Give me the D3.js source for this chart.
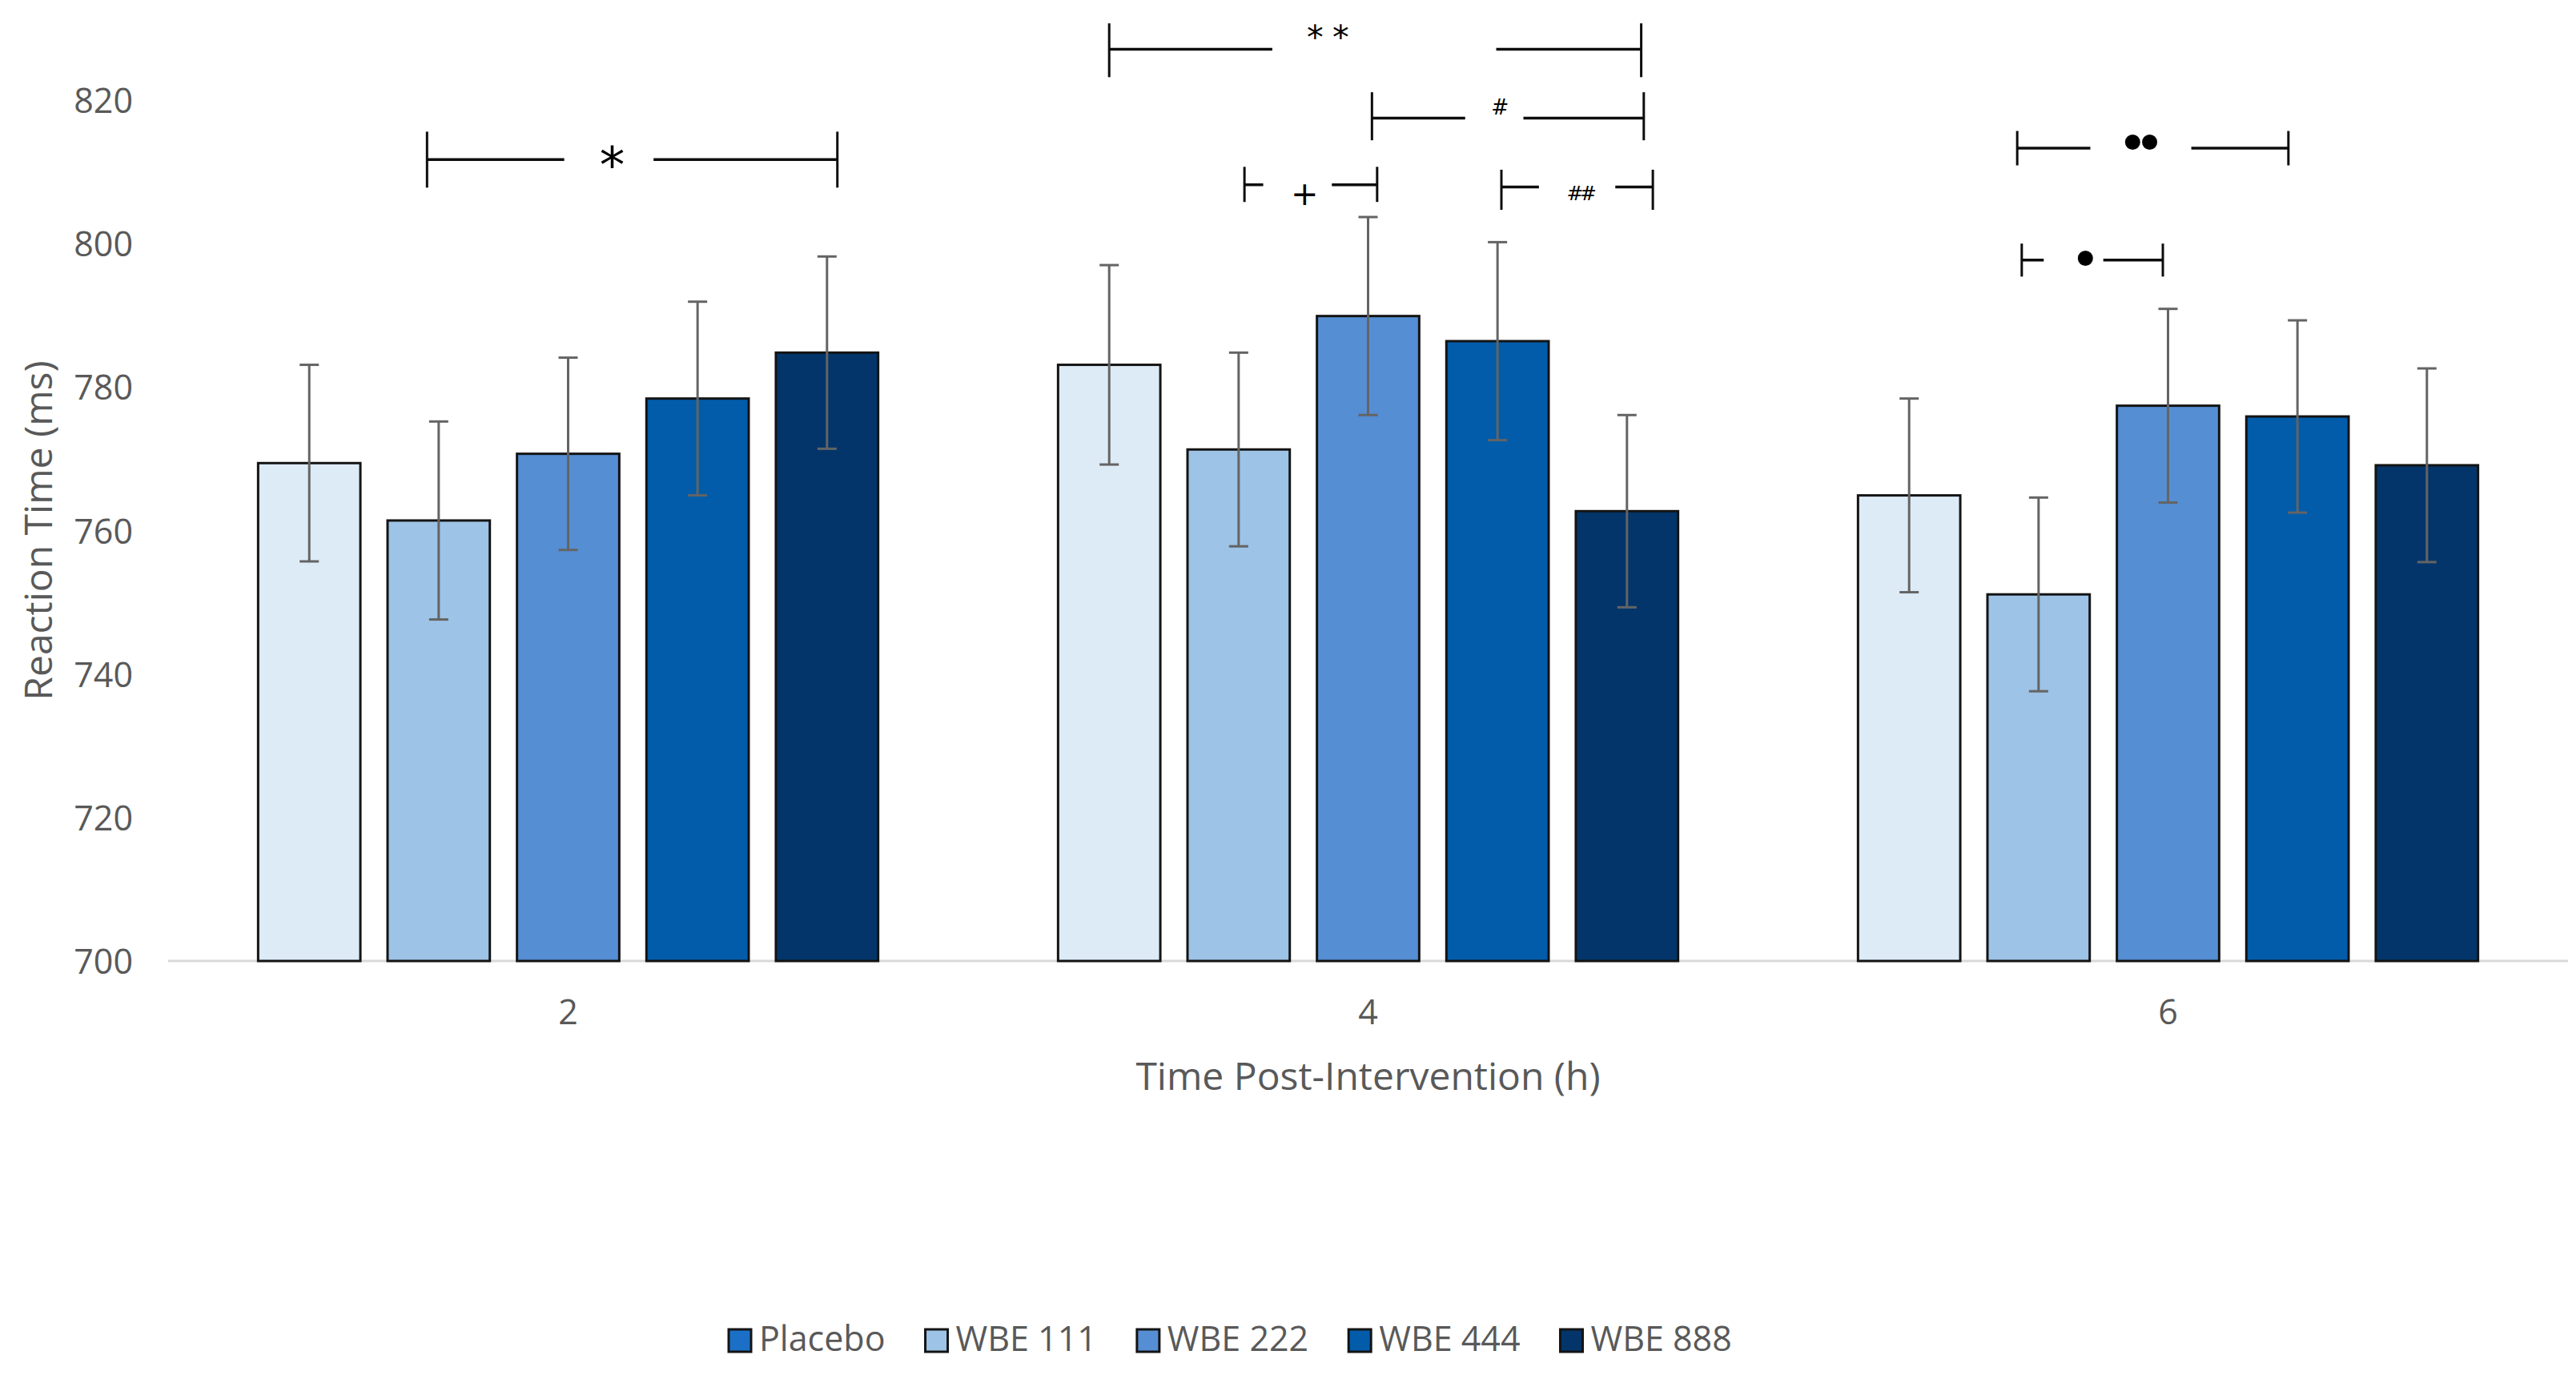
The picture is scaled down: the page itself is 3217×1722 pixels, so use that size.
<!DOCTYPE html>
<html>
<head>
<meta charset="utf-8">
<script src="https://cdn.jsdelivr.net/npm/d3@7/dist/d3.min.js"></script>
<style>
  html, body { margin: 0; padding: 0; background: #ffffff; }
  svg { display: block; }
</style>
</head>
<body>
<svg id="chart" width="3217" height="1722"></svg>
<script>
// ---------------- DATA ----------------
const categories = ["2", "4", "6"];
const seriesNames = ["Placebo", "WBE 111", "WBE 222", "WBE 444", "WBE 888"];

const placebo = [769.4, 783.1, 764.9];
const wbe111  = [761.4, 771.3, 751.1];
const wbe222  = [770.7, 789.9, 777.4];
const wbe444  = [778.4, 786.4, 775.9];
const wbe888  = [784.8, 762.7, 769.1];

const errPlacebo = [13.7, 13.9, 13.5];
const errWbe111  = [13.8, 13.5, 13.5];
const errWbe222  = [13.4, 13.8, 13.5];
const errWbe444  = [13.5, 13.8, 13.4];
const errWbe888  = [13.4, 13.4, 13.5];

const yTicks = [700, 720, 740, 760, 780, 800, 820];
const xTitle = "Time Post-Intervention (h)";
const yTitle = "Reaction Time (ms)";

// significance brackets: category, from/to bar slot, y (ms), tick extents (ms), label gap (slots), label centre
const brackets = [
  { cat: "2", from: 0.91,  to: 4.08, y: 811.7, up: 3.9, down: 3.9, gap: [1.97, 2.66], lx: 2.34, ly: 812.2, label: "*"  },
  { cat: "4", from: 0.00,  to: 4.11, y: 827.1, up: 3.6, down: 3.9, gap: [1.26, 2.99], lx: 1.69, ly: 829.5, label: "**" },
  { cat: "4", from: 2.03,  to: 4.13, y: 817.5, up: 3.6, down: 3.1, gap: [2.75, 3.20], lx: 3.02, ly: 819.0, label: "#"  },
  { cat: "4", from: 1.045, to: 2.07, y: 808.2, up: 2.5, down: 2.4, gap: [1.19, 1.72], lx: 1.51, ly: 806.8, label: "+"  },
  { cat: "4", from: 3.03,  to: 4.20, y: 807.9, up: 2.4, down: 3.2, gap: [3.32, 3.91], lx: 3.65, ly: 807.1, label: "##" },
  { cat: "6", from: 0.835, to: 2.93, y: 813.3, up: 2.4, down: 2.4, gap: [1.40, 2.18], lx: 1.79, ly: 814.1, label: "••" },
  { cat: "6", from: 0.87,  to: 1.96, y: 797.7, up: 2.3, down: 2.3, gap: [1.04, 1.50], lx: 1.36, ly: 798.0, label: "•"  }
];

// ---------------- STYLE ----------------
const barColors    = ["#DDEBF7", "#9DC3E6", "#558ED3", "#025CAA", "#03356A"];
const legendColors = ["#1C6FC6", "#9DC3E6", "#558ED3", "#025CAA", "#03356A"];
const labelInk = { "*": [28, 29], "**": [51, 19], "#": [17, 19], "+": [25, 26], "##": [34, 18], "••": [41, 19], "•": [18, 19] };
const textColor = "#595959";
const fontMain = "'Open Sans', 'Noto Sans', 'Liberation Sans', sans-serif";
const fontSym = "'DejaVu Sans'";

// ---------------- BUILD ----------------
const values = [placebo, wbe111, wbe222, wbe444, wbe888];
const errors = [errPlacebo, errWbe111, errWbe222, errWbe444, errWbe888];
const table = [];
categories.forEach((c, ci) => {
  seriesNames.forEach((s, si) => {
    table.push({ cat: c, series: s, si, value: values[si][ci], err: errors[si][ci] });
  });
});

const svg = d3.select("#chart");
const plot = { left: 210, right: 3207, top: 125, bottom: 1200 };

const x0 = d3.scaleBand().domain(categories).range([plot.left, plot.right]).padding(0);
const x1 = d3.scaleBand().domain(seriesNames).range([0, x0.bandwidth()]).paddingInner(0.21).paddingOuter(0.695);
const y = d3.scaleLinear().domain([700, 820]).range([plot.bottom, plot.top]);
const color = d3.scaleOrdinal().domain(seriesNames).range(barColors);
const legendColor = d3.scaleOrdinal().domain(seriesNames).range(legendColors);

// baseline
svg.append("line")
  .attr("x1", plot.left).attr("x2", plot.right)
  .attr("y1", y(700)).attr("y2", y(700))
  .attr("stroke", "#d9d9d9").attr("stroke-width", 3);

// y axis (labels only)
const yAxis = svg.append("g")
  .attr("transform", `translate(${plot.left - 44},0)`)
  .call(d3.axisLeft(y).tickValues(yTicks).tickSize(0).tickPadding(0).tickFormat(d3.format("d")));
yAxis.select(".domain").remove();
yAxis.selectAll("text")
  .attr("font-family", fontMain).attr("font-size", 43).attr("fill", textColor)
  .attr("dy", null).attr("dominant-baseline", "alphabetic")
  .attr("transform", "translate(0,15.5)");

// x axis labels
const xAxis = svg.append("g")
  .attr("transform", `translate(0,${plot.bottom})`)
  .call(d3.axisBottom(x0).tickSize(0).tickPadding(0));
xAxis.select(".domain").remove();
xAxis.selectAll("text")
  .attr("font-family", fontMain).attr("font-size", 43).attr("fill", textColor)
  .attr("dy", null).attr("y", 79).attr("dominant-baseline", "alphabetic");

// bars
const groups = svg.append("g").selectAll("g")
  .data(categories).join("g")
  .attr("transform", d => `translate(${x0(d)},0)`);

groups.selectAll("rect")
  .data(c => table.filter(t => t.cat === c))
  .join("rect")
  .attr("x", d => x1(d.series))
  .attr("y", d => y(d.value))
  .attr("width", x1.bandwidth())
  .attr("height", d => y(700) - y(d.value))
  .attr("fill", d => color(d.series))
  .attr("stroke", "#141414")
  .attr("stroke-width", 3);

// error bars
const eb = groups.selectAll("g.err")
  .data(c => table.filter(t => t.cat === c))
  .join("g").attr("class", "err")
  .attr("stroke", "#646464").attr("stroke-width", 3);
const cx = d => x1(d.series) + x1.bandwidth() / 2;
eb.append("line")
  .attr("x1", cx).attr("x2", cx)
  .attr("y1", d => y(d.value + d.err)).attr("y2", d => y(d.value - d.err));
eb.append("line")
  .attr("x1", d => cx(d) - 12).attr("x2", d => cx(d) + 12)
  .attr("y1", d => y(d.value + d.err)).attr("y2", d => y(d.value + d.err));
eb.append("line")
  .attr("x1", d => cx(d) - 12).attr("x2", d => cx(d) + 12)
  .attr("y1", d => y(d.value - d.err)).attr("y2", d => y(d.value - d.err));

// brackets
const slotX = (cat, s) => x0(cat) + x1(seriesNames[0]) + x1.bandwidth() / 2 + s * x1.step();
const ctx = document.createElement("canvas").getContext("2d");
function glyphMetrics(ch) {
  ctx.font = `100px ${fontSym}`;
  const m = ctx.measureText(ch);
  return { adv: m.width / 100, L: m.actualBoundingBoxLeft / 100, R: m.actualBoundingBoxRight / 100,
           A: m.actualBoundingBoxAscent / 100, D: m.actualBoundingBoxDescent / 100 };
}

const bg = svg.append("g").attr("stroke", "#0d0d0d").attr("fill", "none");
brackets.forEach(b => {
  const xa = slotX(b.cat, b.from), xb = slotX(b.cat, b.to);
  const g1 = slotX(b.cat, b.gap[0]), g2 = slotX(b.cat, b.gap[1]);
  const yy = y(b.y);
  bg.append("line").attr("x1", xa).attr("x2", g1).attr("y1", yy).attr("y2", yy).attr("stroke-width", 3.5);
  bg.append("line").attr("x1", g2).attr("x2", xb).attr("y1", yy).attr("y2", yy).attr("stroke-width", 3.5);
  [xa, xb].forEach(xx => {
    bg.append("line").attr("x1", xx).attr("x2", xx)
      .attr("y1", y(b.y + b.up)).attr("y2", y(b.y - b.down)).attr("stroke-width", 3);
  });

  // label
  const chars = Array.from(b.label);
  const n = chars.length;
  const gm = glyphMetrics(chars[0]);
  const [tw, th] = labelInk[b.label];
  const fs = th / (gm.A + gm.D);
  let ls = 0;
  if (n > 1) {
    ls = (tw - gm.L * fs - gm.R * fs) / (n - 1) - gm.adv * fs;
  }
  const inkW = (n - 1) * (gm.adv * fs + ls) + (gm.R + gm.L) * fs;
  const lx = slotX(b.cat, b.lx), ly = y(b.ly);
  const tx = lx - inkW / 2 + gm.L * fs;
  const ty = ly + (gm.A - gm.D) * fs / 2;
  svg.append("text")
    .attr("x", tx).attr("y", ty)
    .attr("font-family", fontSym).attr("font-size", fs)
    .attr("letter-spacing", ls)
    .attr("fill", "#000")
    .text(b.label);
});

// axis titles
svg.append("text")
  .attr("x", x0("4") + x0.bandwidth() / 2).attr("y", 1361)
  .attr("text-anchor", "middle")
  .attr("font-family", fontMain).attr("font-size", 48).attr("fill", textColor)
  .text(xTitle);

svg.append("text")
  .attr("transform", `translate(65,${y(760)})rotate(-90)`)
  .attr("text-anchor", "middle")
  .attr("font-family", fontMain).attr("font-size", 48).attr("fill", textColor)
  .text(yTitle);

// legend
const legend = svg.append("g");
let lxPos = 910;
seriesNames.forEach((s, i) => {
  legend.append("rect")
    .attr("x", lxPos).attr("y", 1660).attr("width", 28).attr("height", 28)
    .attr("fill", legendColor(s)).attr("stroke", "#141414").attr("stroke-width", 3);
  const t = legend.append("text")
    .attr("x", lxPos + 38).attr("y", 1687)
    .attr("font-family", fontMain).attr("font-size", 43).attr("fill", textColor)
    .text(s);
  const len = t.node().getComputedTextLength();
  lxPos = lxPos + 38 + len + 50;
});
</script>
</body>
</html>
